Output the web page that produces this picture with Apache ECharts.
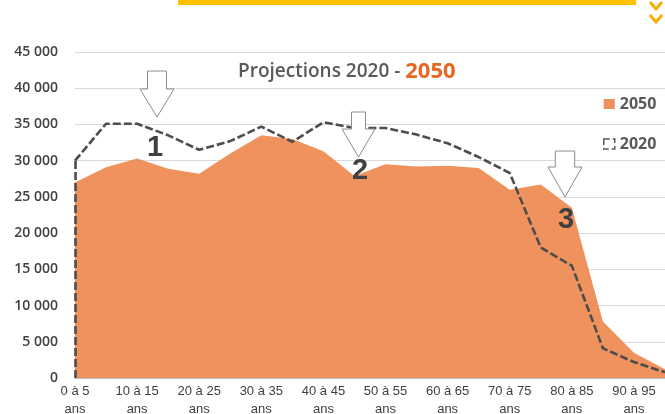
<!DOCTYPE html>
<html>
<head>
<meta charset="utf-8">
<script src="https://cdn.jsdelivr.net/npm/echarts@6/dist/echarts.min.js"></script>
<style>
  html, body { margin: 0; padding: 0; background: #fff; }
  #main { width: 665px; height: 414px; }
</style>
</head>
<body>
<div id="main"></div>
<script>
const categories = ['0 à 5 ans', '5 à 10 ans', '10 à 15 ans', '15 à 20 ans', '20 à 25 ans',
  '25 à 30 ans', '30 à 35 ans', '35 à 40 ans', '40 à 45 ans', '45 à 50 ans',
  '50 à 55 ans', '55 à 60 ans', '60 à 65 ans', '65 à 70 ans', '70 à 75 ans',
  '75 à 80 ans', '80 à 85 ans', '85 à 90 ans', '90 à 95 ans', '95 à 100 ans'];
const values2050 = [27000, 29100, 30300, 28900, 28200, 31000, 33500, 33000, 31300, 27900,
  29500, 29200, 29300, 29000, 26000, 26700, 23500, 7800, 3500, 1200];
const values2020 = [30000, 35100, 35100, 33500, 31500, 32700, 34700, 32600, 35300, 34500,
  34500, 33600, 32400, 30500, 28300, 18000, 15500, 4100, 2200, 800];
const yTicks = { min: 0, max: 45000, step: 5000 };

const chart = echarts.init(document.getElementById('main'), null, { renderer: 'canvas' });

// hollow down arrows used as annotations
function arrow(cx, top, headY, tip, shaftHalf, headHalf) {
  return {
    type: 'polygon',
    shape: { points: [
      [cx - shaftHalf, top], [cx + shaftHalf, top], [cx + shaftHalf, headY],
      [cx + headHalf, headY], [cx, tip], [cx - headHalf, headY], [cx - shaftHalf, headY]
    ] },
    style: { fill: '#fff', stroke: '#8c8c8c', lineWidth: 1 },
    z: 10
  };
}
function num(t, x, y) {
  return {
    type: 'text',
    style: { text: t, x: x, y: y, align: 'center', verticalAlign: 'middle',
      font: 'bold 29px "Liberation Sans", Arial, sans-serif', fill: '#404040' },
    z: 11
  };
}

var option = {
  backgroundColor: '#ffffff',
  animation: false,
  title: {
    text: '{a|Projections 2020 - }{b|2050}',
    left: 238,
    top: 61,
    padding: 0,
    textStyle: {
      rich: {
        a: { fontFamily: 'Open Sans', fontWeight: 600, fontSize: 19, color: '#595959' },
        b: { fontFamily: 'Open Sans', fontWeight: 700, fontSize: 22, color: '#E8661F' }
      }
    }
  },
  legend: {
    orient: 'vertical',
    left: 603,
    top: 96,
    padding: 0,
    itemWidth: 11,
    itemHeight: 10,
    itemGap: 24,
    textStyle: { fontFamily: 'Open Sans', fontWeight: 700, fontSize: 16, color: '#595959', lineHeight: 16 },
    data: [
      { name: '2050', icon: 'rect' },
      { name: '2020', icon: 'rect', itemStyle: { color: '#fff', borderColor: '#595959', borderWidth: 1.5, borderType: 'dashed' } }
    ]
  },
  grid: { left: 75, right: 0, top: 52, bottom: 36, outerBoundsMode: 'none' },
  xAxis: {
    type: 'category',
    boundaryGap: false,
    data: categories,
    axisLine: { lineStyle: { color: '#bfbfbf' } },
    axisTick: { interval: 0, inside: true, length: 4, lineStyle: { color: '#d0d0d0' } },
    axisLabel: {
      interval: 1,
      margin: 4,
      fontFamily: 'Liberation Sans',
      fontSize: 13,
      lineHeight: 18,
      color: '#404040',
      formatter: function (v) { return v.replace(' ans', '\nans'); }
    }
  },
  yAxis: {
    type: 'value',
    min: yTicks.min,
    max: yTicks.max,
    interval: yTicks.step,
    axisLine: { show: false },
    axisTick: { show: false },
    splitLine: { lineStyle: { color: '#d9d9d9', width: 1 } },
    axisLabel: {
      margin: 17,
      fontFamily: 'Open Sans',
      fontWeight: 600,
      fontSize: 14,
      color: '#404040',
      formatter: function (v) { return String(v).replace(/\B(?=(\d{3})+(?!\d))/g, ' '); }
    }
  },
  series: [
    {
      name: '2050',
      type: 'line',
      data: values2050,
      symbol: 'none',
      color: '#EF8F5B',
      lineStyle: { width: 0 },
      areaStyle: { color: '#EE8A52', opacity: 0.93 },
      z: 2
    },
    {
      name: '2020',
      type: 'line',
      data: values2020,
      symbol: 'none',
      color: '#4d4d4d',
      lineStyle: { color: '#4d4d4d', width: 2.6, type: [8, 3] },
      markLine: {
        silent: true,
        symbol: 'none',
        label: { show: false },
        lineStyle: { color: '#4d4d4d', width: 2.6, type: [8, 3] },
        data: [[{ coord: [categories[0], 0] }, { coord: [categories[0], values2020[0]] }]]
      },
      z: 3
    }
  ],
  graphic: [
    { type: 'rect', shape: { x: 178, y: 0, width: 458, height: 5 }, style: { fill: '#FFC000' } },
    { type: 'polyline', shape: { points: [[650, 2], [656, 9], [662, 2]] }, style: { stroke: '#F5B000', lineWidth: 3, fill: null } },
    { type: 'polyline', shape: { points: [[650, 15], [656, 22], [662, 15]] }, style: { stroke: '#F5B000', lineWidth: 3, fill: null } },
    arrow(157, 71, 89, 117, 9.5, 17),
    arrow(358.5, 112, 129, 157, 7, 16.5),
    arrow(565, 151, 167, 197, 9.7, 17),
    num('1', 155, 148),
    num('2', 360, 171),
    num('3', 566, 220)
  ]
};

chart.setOption(option);
</script>
</body>
</html>
